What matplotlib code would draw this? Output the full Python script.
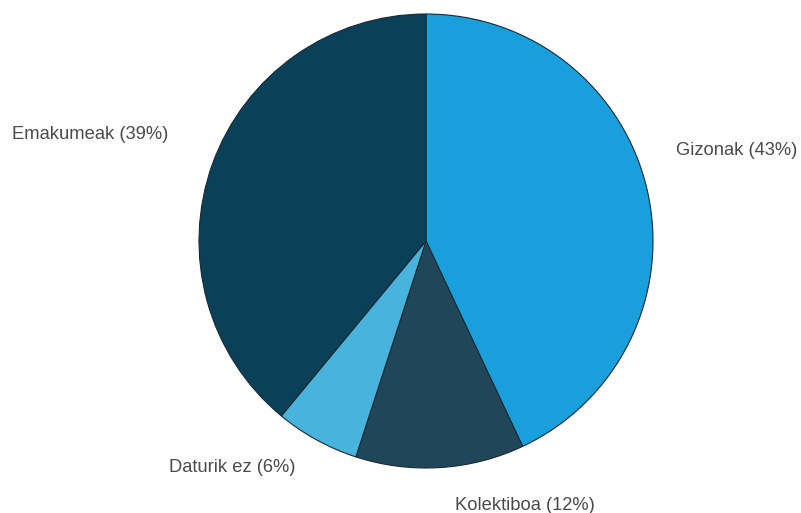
import matplotlib
matplotlib.use("Agg")
import matplotlib.pyplot as plt

categories = ["Gizonak", "Kolektiboa", "Daturik ez", "Emakumeak"]
values = [43, 12, 6, 39]
colors = ["#199fdb", "#1f4759", "#48b4de", "#0b4059"]

fig = plt.figure(figsize=(8.01, 5.13), dpi=100)
ax = fig.add_axes([0, 0, 1, 1])
ax.pie(values, colors=colors, startangle=90, counterclock=False,
       radius=1.0, center=(0, 0),
       wedgeprops=dict(edgecolor="#1a2a33", linewidth=0.8))
ax.set_xlim(-426/227, (801-426)/227)
ax.set_ylim(-272/227, 241/227)
ax.set_aspect("auto")
ax.axis("off")

labels = [f"{c} ({v}%)" for c, v in zip(categories, values)]
pos = [(1.101, 0.40, "left"), (0.436, -1.163, "center"),
       (-0.855, -0.996, "center"), (-1.137, 0.471, "right")]
for lab, (x, y, ha) in zip(labels, pos):
    ax.text(x, y, lab, ha=ha, va="center", fontsize=13.2,
            color="#4a4a4a", family="Liberation Sans")

fig.savefig("out.png", dpi=100)
